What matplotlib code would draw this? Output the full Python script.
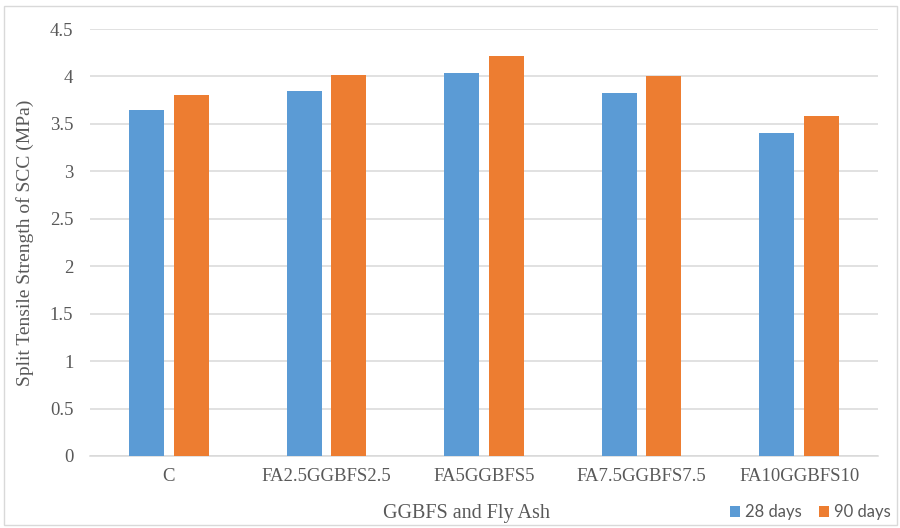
import matplotlib
matplotlib.use("Agg")
import matplotlib.pyplot as plt
import numpy as np
from matplotlib.patches import Rectangle

categories = ["C", "FA2.5GGBFS2.5", "FA5GGBFS5", "FA7.5GGBFS7.5", "FA10GGBFS10"]
days28 = [3.65, 3.85, 4.04, 3.83, 3.40]
days90 = [3.80, 4.02, 4.22, 4.00, 3.58]
series_labels = ["28 days", "90 days"]
yticks = [0, 0.5, 1, 1.5, 2, 2.5, 3, 3.5, 4, 4.5]
ytick_labels = ["0", "0.5", "1", "1.5", "2", "2.5", "3", "3.5", "4", "4.5"]

blue = "#5B9BD5"
orange = "#ED7D31"
text_col = "#595959"
grid_col = "#D9D9D9"

plt.rcParams["font.family"] = ["Liberation Serif", "DejaVu Serif"]

fig = plt.figure(figsize=(9, 5.28), dpi=100)
ax = fig.add_axes([90 / 900, 1 - 456 / 528, (878 - 90) / 900, (456 - 29) / 528])

x = np.arange(len(categories))
w = 0.222
off = 0.1415
ax.bar(x - off, days28, width=w, color=blue, label=series_labels[0], zorder=3)
ax.bar(x + off, days90, width=w, color=orange, label=series_labels[1], zorder=3)

ax.set_xlim(-0.5, len(categories) - 0.5)
ax.set_ylim(0, 4.5)
ax.tick_params(axis="both", length=0, labelsize=13.5, labelcolor=text_col)
ax.tick_params(axis="y", pad=12)
ax.tick_params(axis="x", pad=8.5)
ax.set_yticks(yticks)
ax.set_yticklabels(ytick_labels)
ax.set_xticks(x)
ax.set_xticklabels(categories)

ax.grid(axis="y", color=grid_col, linewidth=1.1, zorder=0)
for s in ["top", "right", "left"]:
    ax.spines[s].set_visible(False)
ax.spines["bottom"].set_color(grid_col)
ax.spines["bottom"].set_linewidth(1.1)

ax.set_ylabel("Split Tensile Strength of SCC (MPa)", fontsize=14, color=text_col)
ax.yaxis.set_label_coords(-0.071, 0.5)
fig.text(467 / 900, 1 - 518 / 528, "GGBFS and Fly Ash",
         fontsize=14.5, color=text_col, ha="center", va="baseline")

leg = fig.legend(loc="center", bbox_to_anchor=(810.5 / 900, 1 - 512.5 / 528), ncol=2,
                 frameon=False, prop={"family": "Lato", "size": 12},
                 handlelength=0.64, handleheight=0.64, handletextpad=0.3,
                 columnspacing=1.0, borderpad=0)
for t in leg.get_texts():
    t.set_color(text_col)

fig.patches.append(Rectangle((4 / 900, 3 / 528), 893 / 900, 519 / 528,
                             transform=fig.transFigure, fill=False,
                             edgecolor=grid_col, linewidth=1.0))

fig.savefig("out.png", dpi=100)
